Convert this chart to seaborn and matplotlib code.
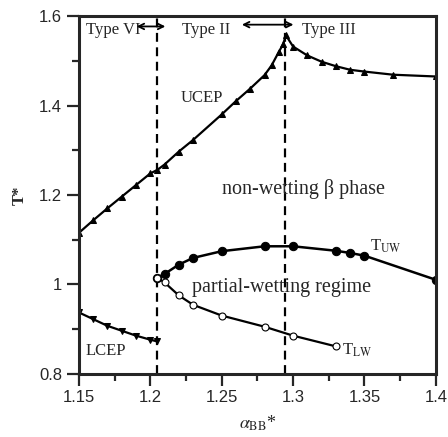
import matplotlib
matplotlib.use("Agg")
import matplotlib.pyplot as plt
import seaborn as sns
import pandas as pd
import numpy as np

# --- data ---
ucep_a = [1.15, 1.16, 1.17, 1.18, 1.19, 1.20, 1.205, 1.21, 1.22, 1.23, 1.25, 1.26, 1.27, 1.28,
          1.285, 1.29, 1.293, 1.295, 1.30, 1.31, 1.32, 1.33, 1.34, 1.35, 1.37, 1.40]
ucep_t = [1.115, 1.143, 1.170, 1.196, 1.222, 1.248, 1.256, 1.268, 1.297, 1.323, 1.380, 1.410, 1.438, 1.468,
          1.490, 1.520, 1.537, 1.557, 1.532, 1.512, 1.498, 1.488, 1.480, 1.476, 1.469, 1.465]

lcep_a = [1.15, 1.16, 1.17, 1.18, 1.19, 1.20, 1.205]
lcep_t = [0.937, 0.922, 0.907, 0.896, 0.885, 0.876, 0.872]

tuw_a = [1.205, 1.21, 1.22, 1.23, 1.25, 1.28, 1.30, 1.33, 1.34, 1.35, 1.40]
tuw_t = [1.015, 1.023, 1.044, 1.059, 1.074, 1.085, 1.085, 1.075, 1.070, 1.064, 1.010]

tlw_a = [1.205, 1.21, 1.22, 1.23, 1.25, 1.28, 1.30, 1.33]
tlw_t = [1.015, 1.004, 0.975, 0.954, 0.930, 0.905, 0.885, 0.861]

boundaries = [1.205, 1.294]

xticks = [1.15, 1.2, 1.25, 1.3, 1.35, 1.4]
xticklabels = ["1.15", "1.2", "1.25", "1.3", "1.35", "1.4"]
yticks = [0.8, 1.0, 1.2, 1.4, 1.6]
yticklabels = ["0.8", "1", "1.2", "1.4", "1.6"]

sns.set_style("ticks")
plt.rcParams['mathtext.fontset'] = 'stix'
serif = ['Liberation Serif', 'DejaVu Serif']

fig = plt.figure(figsize=(4.48, 4.37), dpi=100)
ax = fig.add_axes([0.176, 0.145, 0.797, 0.818])

ucep = pd.DataFrame({'a': ucep_a, 'T': ucep_t})
lcep = pd.DataFrame({'a': lcep_a, 'T': lcep_t})
tuw = pd.DataFrame({'a': tuw_a, 'T': tuw_t})
tlw = pd.DataFrame({'a': tlw_a, 'T': tlw_t})

sns.lineplot(data=ucep, x='a', y='T', ax=ax, sort=False, color='black', lw=1.6,
             marker='^', markersize=4.5, markeredgecolor='black')
sns.lineplot(data=lcep, x='a', y='T', ax=ax, sort=False, color='black', lw=1.6,
             marker='v', markersize=4.5, markeredgecolor='black')
sns.lineplot(data=tuw, x='a', y='T', ax=ax, sort=False, color='black', lw=1.8,
             marker='o', markersize=6, markeredgecolor='black')
sns.lineplot(data=tlw, x='a', y='T', ax=ax, sort=False, color='black', lw=1.6,
             marker='o', markersize=5, markerfacecolor='white', markeredgecolor='black',
             markeredgewidth=0.8)

for b in boundaries:
    ax.axvline(b, color='black', lw=1.6, ls=(0, (4, 2.5)), zorder=1)

ax.set_xlim(1.15, 1.4)
ax.set_ylim(0.8, 1.6)
ax.set_xticks(xticks)
ax.set_xticklabels(xticklabels, fontfamily='Liberation Sans', fontsize=12)
ax.set_yticks(yticks)
ax.set_yticklabels(yticklabels, fontfamily='Liberation Sans', fontsize=12)
ax.set_xticks([1.175, 1.225, 1.275, 1.325, 1.375], minor=True)
ax.set_yticks([0.9, 1.1, 1.3, 1.5], minor=True)
ax.tick_params(which='major', direction='out', length=8.5, width=1.6)
ax.tick_params(which='minor', direction='out', length=5, width=1.6)
for s in ax.spines.values():
    s.set_linewidth(2.2)
    s.set_visible(True)

ax.set_xlabel(r'$\alpha_{\mathrm{BB}}$*', fontsize=13, family=serif, labelpad=6)
ax.set_ylabel('T*', fontsize=12, family=serif, fontweight='bold', labelpad=8)

# annotations
ax.text(1.155, 1.568, 'Type VI', fontsize=12, family=serif, va='center')
ax.text(1.222, 1.568, 'Type II', fontsize=12, family=serif, va='center')
ax.text(1.3065, 1.568, 'Type III', fontsize=12, family=serif, va='center')
ax.annotate('', xy=(1.1885, 1.577), xytext=(1.2125, 1.577),
            arrowprops=dict(arrowstyle='<->', color='black', lw=1.3, mutation_scale=10))
ax.annotate('', xy=(1.2622, 1.581), xytext=(1.3022, 1.581),
            arrowprops=dict(arrowstyle='<->', color='black', lw=1.3, mutation_scale=10))

ax.text(1.2214, 1.417, 'UCEP', fontsize=12, family=serif, va='center')
ax.text(1.155, 0.850, 'LCEP', fontsize=12, family=serif, va='center')
ax.text(1.250, 1.213, 'non-wetting β phase', fontsize=14.5, family=serif, va='center')
ax.text(1.229, 0.992, 'partial-wetting regime', fontsize=14.5, family=serif, va='center')
ax.text(1.354, 1.085, r'T$_{\mathrm{UW}}$', fontsize=12, family=serif, va='center')
ax.text(1.334, 0.852, r'T$_{\mathrm{LW}}$', fontsize=12, family=serif, va='center')

fig.savefig('out.png', dpi=100)
